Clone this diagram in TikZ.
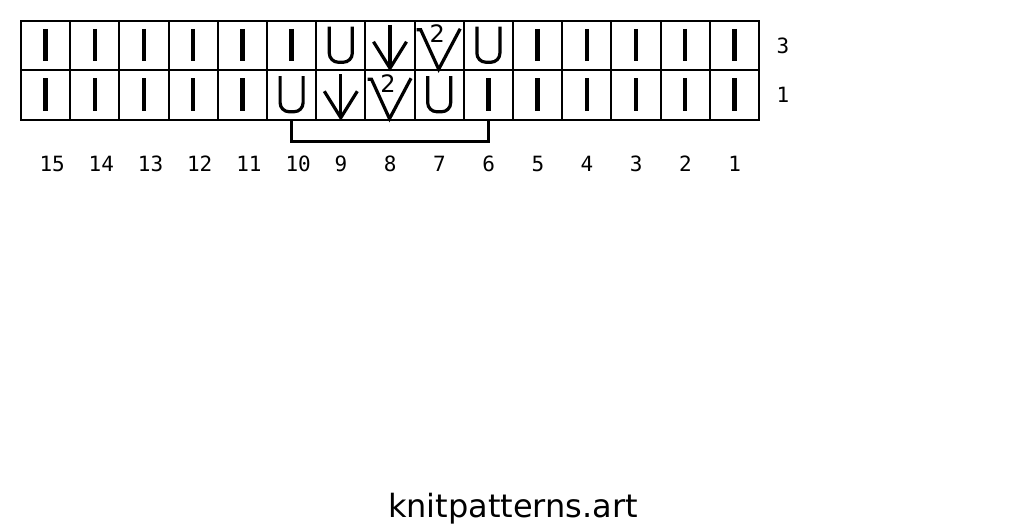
\documentclass[tikz,border=0pt]{standalone}
\usepackage{fontspec}
\setmainfont{DejaVu Sans}
\newfontfamily\monofont{DejaVu Sans Mono}
\tikzset{
  cellbox/.style={draw=black,line width=2pt,minimum width=49.2pt,minimum height=49.5pt,inner sep=0pt,outer sep=0pt},
  symline/.style={draw=black,line width=3.2pt},
  numlab/.style={font=\monofont\fontsize{21}{22}\selectfont,inner sep=0pt,anchor=base west},
  rowlab/.style={font=\monofont\fontsize{21}{22}\selectfont,inner sep=0pt,anchor=center},
  kbar/.pic={\draw[draw=black,line width=4.4pt] (0,-16.75) -- (0,15.75);},
  kyo/.pic={\draw[symline,rounded corners=9pt] (-11.5,-19) -- (-11.5,16.5) -- (11.5,16.5) -- (11.5,-19);},
  karrow/.pic={\draw[symline] (0,-20.75) -- (0,22.5);
               \draw[symline,line join=miter] (-16.5,-4) -- (0,22.5) -- (16.5,-4);},
  kvtwo/.pic={\draw[symline,line join=miter] (-22.5,-16) -- (-18.5,-16) -- (-0.5,23.5) -- (21,-17);
              \node[font=\fontsize{24}{24}\selectfont,inner sep=0pt] (-two) at (-2,-12) {2};}
}
\begin{document}
\begin{tikzpicture}[x=1pt,y=-1pt]
\useasboundingbox (0,0) rectangle (1024,526);
\fill[white] (0,0) rectangle (1024,526);
\foreach \n in {1,...,15} {
  \pgfmathsetmacro\cx{21+(15-\n)*49.2+24.6}
  \node[cellbox] (r3-\n) at (\cx,45.75) {};
  \node[cellbox] (r1-\n) at (\cx,95.25) {};
  \node[numlab] (num-\n) at (\cx-6.3,171.7) {\n};
}
\foreach \n in {15,14,13,12,11,10,5,4,3,2,1} \pic at (r3-\n) {kbar};
\foreach \n in {15,14,13,12,11,6,5,4,3,2,1} \pic at (r1-\n) {kbar};
\pic (a1) at (r3-9) {kyo};
\pic (a2) at (r3-8) {karrow};
\pic (a3) at (r3-7) {kvtwo};
\pic (a4) at (r3-6) {kyo};
\pic (b1) at (r1-10) {kyo};
\pic (b2) at (r1-9) {karrow};
\pic (b3) at (r1-8) {kvtwo};
\pic (b4) at (r1-7) {kyo};
\draw[draw=black,line width=3pt,line join=miter] (r1-10.south) -- ++(0,21.5) -| (r1-6.south);
\node[rowlab] (lab3) at (783,45.7) {3};
\node[rowlab] (lab1) at (783,95) {1};
\node[font=\fontsize{32}{34}\selectfont,inner sep=0pt,anchor=base] (site) at (513,517.7) {knitpatterns.art};
\end{tikzpicture}
\end{document}
